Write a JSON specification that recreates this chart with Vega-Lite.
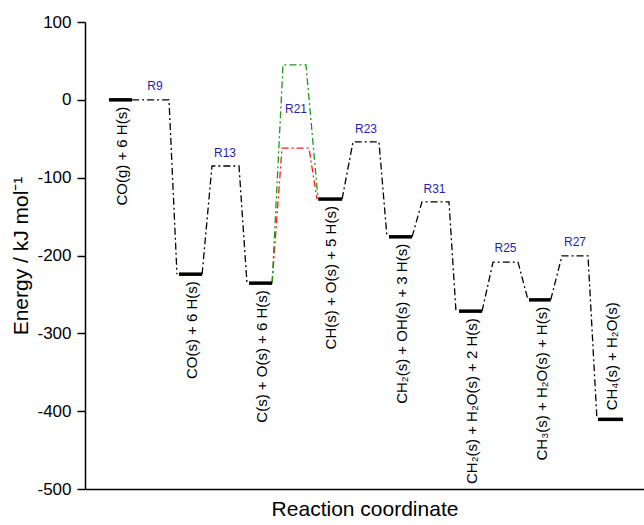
{
  "$schema": "https://vega.github.io/schema/vega-lite/v6.json",
  "width": 559,
  "height": 467,
  "autosize": {"type": "none"},
  "padding": {"left": 85, "top": 22, "right": 0, "bottom": 36},
  "background": "white",
  "config": {
    "font": "Liberation Sans",
    "view": {"stroke": null}
  },
  "datasets": {
    "levels": [
      {"species": "CO(g) + 6 H(s)", "x1": 0.0, "x2": 0.33, "energy": 0},
      {"species": "CO(s) + 6 H(s)", "x1": 1.0, "x2": 1.33, "energy": -224},
      {"species": "C(s) + O(s) + 6 H(s)", "x1": 2.0, "x2": 2.33, "energy": -235.5},
      {"species": "CH(s) + O(s) + 5 H(s)", "x1": 2.99, "x2": 3.33, "energy": -127.5},
      {"species": "CH₂(s) + OH(s) + 3 H(s)", "x1": 4.0, "x2": 4.33, "energy": -176},
      {"species": "CH₂(s) + H₂O(s) + 2 H(s)", "x1": 5.0, "x2": 5.33, "energy": -271.5},
      {"species": "CH₃(s) + H₂O(s) + H(s)", "x1": 6.0, "x2": 6.31, "energy": -257},
      {"species": "CH₄(s) + H₂O(s)", "x1": 6.986, "x2": 7.343, "energy": -410.5}
    ],
    "paths": [
      {"seg": "R9", "path": "main", "x": 0.33, "energy": 0},
      {"seg": "R9", "path": "main", "x": 0.857, "energy": 0},
      {"seg": "R9", "path": "main", "x": 0.971, "energy": -224},
      {"seg": "R13", "path": "main", "x": 1.33, "energy": -224},
      {"seg": "R13", "path": "main", "x": 1.471, "energy": -85},
      {"seg": "R13", "path": "main", "x": 1.857, "energy": -85},
      {"seg": "R13", "path": "main", "x": 1.971, "energy": -235.5},
      {"seg": "R21a", "path": "red", "x": 2.33, "energy": -235.5},
      {"seg": "R21a", "path": "red", "x": 2.471, "energy": -62},
      {"seg": "R21a", "path": "red", "x": 2.857, "energy": -62},
      {"seg": "R21a", "path": "red", "x": 2.971, "energy": -127.5},
      {"seg": "R21b", "path": "green", "x": 2.33, "energy": -235.5},
      {"seg": "R21b", "path": "green", "x": 2.486, "energy": 45},
      {"seg": "R21b", "path": "green", "x": 2.814, "energy": 45},
      {"seg": "R21b", "path": "green", "x": 2.986, "energy": -127.5},
      {"seg": "R23", "path": "main", "x": 3.33, "energy": -127.5},
      {"seg": "R23", "path": "main", "x": 3.486, "energy": -54},
      {"seg": "R23", "path": "main", "x": 3.857, "energy": -54},
      {"seg": "R23", "path": "main", "x": 3.971, "energy": -176},
      {"seg": "R31", "path": "main", "x": 4.33, "energy": -176},
      {"seg": "R31", "path": "main", "x": 4.471, "energy": -131},
      {"seg": "R31", "path": "main", "x": 4.857, "energy": -131},
      {"seg": "R31", "path": "main", "x": 4.957, "energy": -271.5},
      {"seg": "R25", "path": "main", "x": 5.33, "energy": -271.5},
      {"seg": "R25", "path": "main", "x": 5.486, "energy": -208.5},
      {"seg": "R25", "path": "main", "x": 5.843, "energy": -208.5},
      {"seg": "R25", "path": "main", "x": 5.986, "energy": -257},
      {"seg": "R27", "path": "main", "x": 6.31, "energy": -257},
      {"seg": "R27", "path": "main", "x": 6.471, "energy": -200.5},
      {"seg": "R27", "path": "main", "x": 6.843, "energy": -200.5},
      {"seg": "R27", "path": "main", "x": 6.971, "energy": -410.5}
    ],
    "rlabels": [
      {"label": "R9", "x": 0.657, "energy": 13},
      {"label": "R13", "x": 1.657, "energy": -73},
      {"label": "R21", "x": 2.671, "energy": -17},
      {"label": "R23", "x": 3.671, "energy": -42.5},
      {"label": "R31", "x": 4.65, "energy": -120},
      {"label": "R25", "x": 5.664, "energy": -196},
      {"label": "R27", "x": 6.657, "energy": -188}
    ]
  },
  "layer": [
    {
      "data": {"name": "paths"},
      "mark": {"type": "line", "strokeWidth": 1.3, "strokeDash": [7, 3, 2, 3]},
      "encoding": {
        "x": {
          "field": "x", "type": "quantitative", "title": "Reaction coordinate",
          "scale": {"domain": [-0.343, 7.643], "nice": false, "zero": false},
          "axis": {
            "title": "Reaction coordinate", "ticks": false, "labels": false, "grid": false,
            "domainColor": "black", "domainWidth": 1.5,
            "titleFontSize": 21, "titleFontWeight": "normal", "titleColor": "black", "titlePadding": 9
          }
        },
        "y": {
          "field": "energy", "type": "quantitative", "title": "Energy / kJ mol⁻¹",
          "scale": {"domain": [-500, 100], "nice": false, "zero": false},
          "axis": {
            "title": "Energy / kJ mol⁻¹",
            "values": [100, 50, 0, -50, -100, -150, -200, -250, -300, -350, -400, -450, -500],
            "labelExpr": "datum.value % 100 === 0 ? '' + datum.value : ''",
            "tickSize": {"condition": {"test": "datum.value % 100 === 0", "value": 8}, "value": 4},
            "grid": false, "labelFontSize": 17, "labelColor": "black",
            "tickColor": "black", "tickWidth": 1.5, "domainColor": "black", "domainWidth": 1.5,
            "labelPadding": 6, "titleFontSize": 21, "titleFontWeight": "normal",
            "titleColor": "black", "titlePadding": 5
          }
        },
        "detail": {"field": "seg"},
        "color": {
          "field": "path", "type": "nominal",
          "scale": {"domain": ["main", "green", "red"], "range": ["black", "#1a9a1a", "#ff1a1a"]},
          "legend": null
        }
      }
    },
    {
      "mark": {"type": "rule", "strokeWidth": 1.5, "color": "black"},
      "encoding": {
        "y": {"datum": 100, "type": "quantitative", "title": "Energy / kJ mol⁻¹"}
      }
    },
    {
      "data": {"name": "levels"},
      "mark": {"type": "rule", "strokeWidth": 3.5, "color": "black"},
      "encoding": {
        "x": {"field": "x1", "type": "quantitative", "title": "Reaction coordinate"},
        "x2": {"field": "x2"},
        "y": {"field": "energy", "type": "quantitative", "title": "Energy / kJ mol⁻¹"}
      }
    },
    {
      "data": {"name": "levels"},
      "transform": [{"filter": "datum.species !== 'CH₄(s) + H₂O(s)'"}],
      "mark": {"type": "text", "angle": -90, "align": "right", "baseline": "middle", "fontSize": 15, "dx": -7, "dy": 13, "color": "black"},
      "encoding": {
        "x": {"field": "x1", "type": "quantitative", "title": "Reaction coordinate"},
        "y": {"field": "energy", "type": "quantitative", "title": "Energy / kJ mol⁻¹"},
        "text": {"field": "species"}
      }
    },
    {
      "data": {"name": "levels"},
      "transform": [{"filter": "datum.species === 'CH₄(s) + H₂O(s)'"}],
      "mark": {"type": "text", "angle": -90, "align": "left", "baseline": "middle", "fontSize": 15, "dx": 9, "dy": 14, "color": "black"},
      "encoding": {
        "x": {"field": "x1", "type": "quantitative", "title": "Reaction coordinate"},
        "y": {"field": "energy", "type": "quantitative", "title": "Energy / kJ mol⁻¹"},
        "text": {"field": "species"}
      }
    },
    {
      "data": {"name": "rlabels"},
      "mark": {"type": "text", "align": "center", "baseline": "alphabetic", "fontSize": 12, "color": "#1f1fb0"},
      "encoding": {
        "x": {"field": "x", "type": "quantitative", "title": "Reaction coordinate"},
        "y": {"field": "energy", "type": "quantitative", "title": "Energy / kJ mol⁻¹"},
        "text": {"field": "label"}
      }
    }
  ]
}
